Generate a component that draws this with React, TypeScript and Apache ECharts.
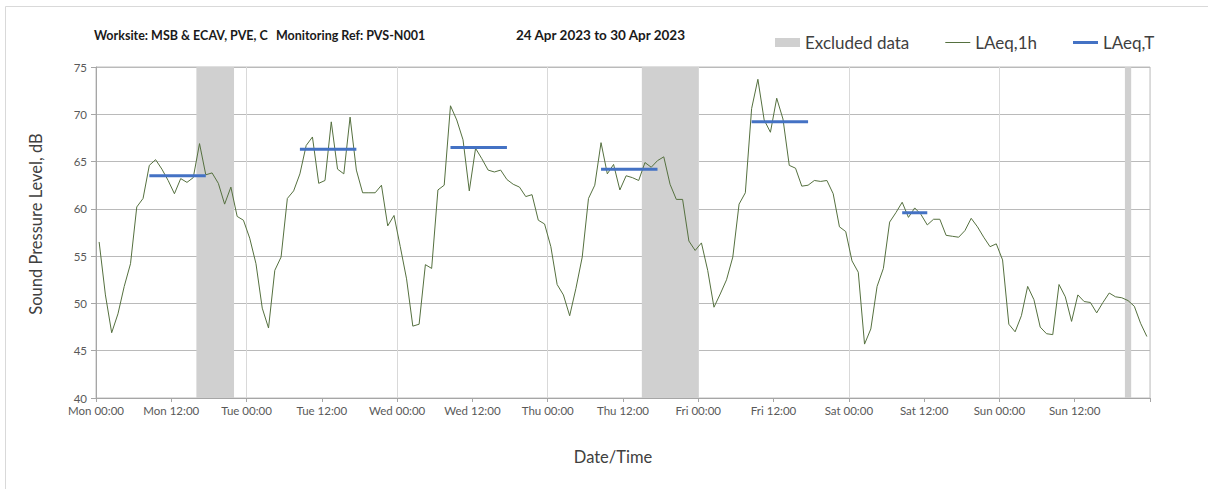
import React, { useEffect, useRef } from "react";
import * as echarts from "echarts";

const DAYS = ["Mon", "Tue", "Wed", "Thu", "Fri", "Sat", "Sun"];

// Hourly LAeq,1h values, Mon 00:00 .. Sun 23:00 (plotted at mid-hour)
const LAEQ_1H = [
  56.5, 50.9, 46.9, 48.9, 51.8, 54.2, 60.2, 61.1, 64.6, 65.2, 64.2, 63.0,
  61.6, 63.2, 62.8, 63.3, 66.9, 63.6, 63.8, 62.7, 60.5, 62.3, 59.2, 58.8,
  56.9, 54.2, 49.5, 47.4, 53.5, 54.9, 61.1, 61.9, 63.7, 66.7, 67.6, 62.7,
  63.0, 69.2, 64.2, 63.7, 69.7, 64.1, 61.7, 61.7, 61.7, 62.5, 58.2, 59.3,
  56.0, 52.6, 47.6, 47.8, 54.1, 53.7, 62.0, 62.5, 70.9, 69.4, 67.3, 61.9,
  66.4, 65.3, 64.1, 63.9, 64.1, 63.1, 62.6, 62.3, 61.3, 61.5, 58.8, 58.4,
  56.0, 52.0, 50.9, 48.7, 51.6, 54.9, 61.1, 62.5, 67.0, 63.7, 64.7, 62.0,
  63.5, 63.3, 63.0, 64.9, 64.4, 65.1, 65.5, 62.6, 61.0, 61.0, 56.6, 55.6,
  56.4, 53.5, 49.6, 51.0, 52.5, 54.9, 60.5, 61.7, 70.6, 73.7, 69.4, 68.1,
  71.7, 69.5, 64.6, 64.3, 62.4, 62.5, 63.0, 62.9, 63.0, 61.6, 58.1, 57.6,
  54.5, 53.3, 45.7, 47.3, 51.8, 53.7, 58.6, 59.6, 60.7, 59.1, 60.1, 59.4,
  58.3, 58.9, 58.9, 57.2, 57.1, 57.0, 57.7, 59.0, 58.1, 57.0, 56.0, 56.3,
  54.6, 47.8, 47.0, 48.7, 51.8, 50.4, 47.5, 46.8, 46.7, 52.0, 50.7, 48.1,
  50.9, 50.2, 50.1, 49.0, 50.1, 51.1, 50.7, 50.6, 50.3, 49.7, 47.9, 46.5,
];

// LAeq,T periods (first and last hour index, inclusive) and values
const LAEQ_T_START = [8, 32, 56, 80, 104, 128];
const LAEQ_T_END = [17, 41, 65, 89, 113, 132];
const LAEQ_T_VALUES = [63.5, 66.3, 66.5, 64.2, 69.2, 59.6];

// Excluded data periods, in hours from Mon 00:00
const EXCLUDED_FROM = [16, 87, 164];
const EXCLUDED_TO = [22, 96, 165];

const Y_MIN = 40;
const Y_MAX = 75;

const FONT = "Lato, 'Open Sans', sans-serif";

export default function App() {
  const ref = useRef<HTMLDivElement>(null);

  useEffect(() => {
    if (!ref.current) return;
    const chart = echarts.init(ref.current, undefined, { renderer: "svg" });

    const lineData = LAEQ_1H.map((v, i) => [i + 0.5, v]);
    const tSeries = LAEQ_T_VALUES.map((v, k) => ({
      name: "LAeq,T",
      type: "line",
      xAxisIndex: 0,
      data: [
        [LAEQ_T_START[k] + 0.5, v],
        [LAEQ_T_END[k] + 0.5, v],
      ],
      symbol: "none",
      lineStyle: { color: "#4472C4", width: 3 },
      itemStyle: { color: "#4472C4" },
      z: 4,
    }));

    chart.setOption({
      animation: false,
      backgroundColor: "#ffffff",
      textStyle: { fontFamily: FONT },
      grid: { left: 96, right: 58, top: 67, bottom: 91, show: true, borderColor: "#bfbfbf", borderWidth: 1 },
      legend: {
        left: 770,
        top: 29,
        itemWidth: 25,
        itemHeight: 9,
        itemGap: 36,
        symbolKeepAspect: true,
        textStyle: { fontSize: 17, color: "#404040", fontFamily: FONT },
        data: [
          { name: "Excluded data", icon: "rect" },
          { name: "LAeq,1h", icon: "path://M0,0H25V1H0Z" },
          { name: "LAeq,T", icon: "path://M0,0H25V3H0Z" },
        ],
      },
      xAxis: [
        {
          type: "value",
          min: 0,
          max: 168,
          interval: 12,
          axisLine: { show: true, lineStyle: { color: "#a6a6a6" } },
          axisTick: { show: true, length: 4, lineStyle: { color: "#a6a6a6" } },
          splitLine: { show: false },
          axisLabel: {
            color: "#595959",
            fontSize: 11.5,
            margin: 6,
            fontFamily: FONT,
            formatter: (v: number) => {
              if (v >= 168) return "";
              const d = DAYS[Math.floor(v / 24)];
              return `${d} ${v % 24 === 0 ? "00" : "12"}:00`;
            },
          },
        },
        {
          type: "value",
          min: 0,
          max: 168,
          interval: 24,
          position: "bottom",
          axisLine: { show: false },
          axisTick: { show: false },
          axisLabel: { show: false },
          splitLine: { show: true, lineStyle: { color: "#d9d9d9", width: 1 } },
        },
      ],
      yAxis: {
        type: "value",
        min: Y_MIN,
        max: Y_MAX,
        interval: 5,
        axisLine: { show: true, lineStyle: { color: "#a6a6a6" } },
        axisTick: { show: true, length: 5, lineStyle: { color: "#a6a6a6" } },
        splitLine: { show: true, lineStyle: { color: "#bababa", width: 1 } },
        axisLabel: { color: "#595959", fontSize: 11.5, margin: 9, fontFamily: FONT },
      },
      graphic: [
        {
          type: "rect",
          shape: { x: 5.5, y: 6.5, width: 1220, height: 500 },
          style: { fill: "none", stroke: "#d9d9d9", lineWidth: 1 },
          silent: true,
        },
        {
          type: "text",
          x: 94,
          y: 35,
          style: { text: "Worksite: MSB & ECAV, PVE, C", font: `bold 12.5px ${FONT}`, fill: "#1a1a1a", verticalAlign: "middle" },
        },
        {
          type: "text",
          x: 276,
          y: 35,
          style: { text: "Monitoring Ref: PVS-N001", font: `bold 12.5px ${FONT}`, fill: "#1a1a1a", verticalAlign: "middle" },
        },
        {
          type: "text",
          x: 516,
          y: 35,
          style: { text: "24 Apr 2023 to 30 Apr 2023", font: `bold 13.5px ${FONT}`, fill: "#1a1a1a", verticalAlign: "middle" },
        },
        {
          type: "text",
          x: 36,
          y: 224,
          rotation: Math.PI / 2,
          style: { text: "Sound Pressure Level, dB", font: `16.5px ${FONT}`, fill: "#404040", align: "center", verticalAlign: "middle" },
        },
        {
          type: "text",
          x: 613,
          y: 457,
          style: { text: "Date/Time", font: `16.5px ${FONT}`, fill: "#404040", align: "center", verticalAlign: "middle" },
        },
      ],
      series: [
        {
          name: "Excluded data",
          type: "line",
          xAxisIndex: 0,
          data: [],
          symbol: "none",
          itemStyle: { color: "#d0d0d0" },
          lineStyle: { color: "#d0d0d0" },
          z: 1,
          markArea: {
            silent: true,
            itemStyle: { color: "#d0d0d0", opacity: 1 },
            data: EXCLUDED_FROM.map((f, k) => [{ xAxis: f }, { xAxis: EXCLUDED_TO[k] }]),
          },
        },
        {
          name: "LAeq,1h",
          type: "line",
          xAxisIndex: 0,
          data: lineData,
          symbol: "none",
          lineStyle: { color: "#55703F", width: 1 },
          itemStyle: { color: "#55703F" },
          z: 3,
        },
        ...tSeries,
      ],
    });

    return () => chart.dispose();
  }, []);

  return (
    <div
      ref={ref}
      style={{ position: "fixed", left: 0, top: 0, width: 1208, height: 489, background: "#fff" }}
    />
  );
}
